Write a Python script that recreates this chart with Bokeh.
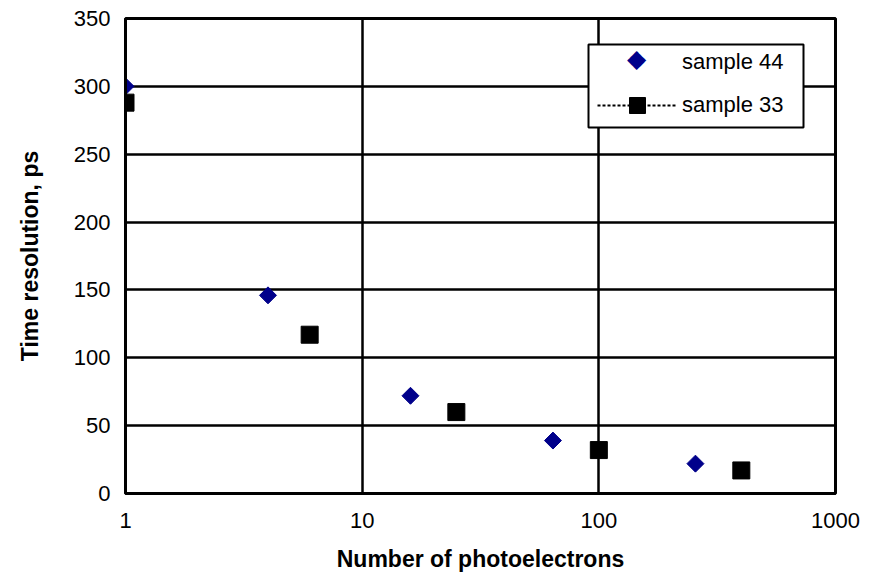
import math
from bokeh.plotting import figure
from bokeh.models import (Legend, LegendItem, FixedTicker, CustomJSTickFormatter, Label,
                          BoxAnnotation)
from bokeh.embed import file_html
from bokeh.resources import INLINE

# data
s44_x = [1, 4, 16, 64, 256]
s44_y = [300, 146, 72, 39, 22]
s33_x = [1, 6, 25, 100, 400]
s33_y = [288, 117, 60, 32, 17]
x_ticks = [1, 10, 100, 1000]
y_ticks = [0, 50, 100, 150, 200, 250, 300, 350]

FONT = "Liberation Sans"
NAVY = "#00008B"

p = figure(width=880, height=576, x_axis_type="log", x_range=(1, 1000), y_range=(0, 350),
           output_backend="svg", toolbar_location=None,
           min_border_left=125, min_border_right=45, min_border_top=18, min_border_bottom=83)
p.background_fill_color = "white"
p.border_fill_color = "white"
p.outline_line_color = "black"
p.outline_line_width = 3

for ax in (p.xaxis[0], p.yaxis[0]):
    ax.axis_line_color = "black"
    ax.axis_line_width = 3
    ax.major_tick_out = 0
    ax.major_tick_in = 0
    ax.minor_tick_out = 0
    ax.minor_tick_in = 0
    ax.major_label_text_font = FONT
    ax.major_label_text_font_size = "22px"
    ax.major_label_text_color = "black"
    ax.axis_label_text_font = FONT
    ax.axis_label_text_font_size = "23px"
    ax.axis_label_text_font_style = "bold"
    ax.axis_label_text_color = "black"

p.xaxis.ticker = FixedTicker(ticks=x_ticks)
p.yaxis.ticker = FixedTicker(ticks=y_ticks)
p.xaxis.formatter = CustomJSTickFormatter(code="return tick.toString();")
p.xaxis.major_label_standoff = 19
p.yaxis.major_label_standoff = 15
p.xaxis.axis_label = "Number of photoelectrons"
p.yaxis.axis_label = "Time resolution, ps"
p.xaxis.axis_label_standoff = 15
p.yaxis.axis_label_standoff = 28

p.xgrid.ticker = FixedTicker(ticks=x_ticks)
p.ygrid.ticker = FixedTicker(ticks=y_ticks)
for g in (p.xgrid[0], p.ygrid[0]):
    g.grid_line_color = "black"
    g.grid_line_width = 2.5

r44 = p.scatter(s44_x, s44_y, marker="square", angle=math.pi / 4, size=12, color=NAVY)
dummy44 = p.scatter(x=[float("nan")], y=[float("nan")], marker="square", size=12, alpha=0)
ln = p.line(x=[float("nan")], y=[float("nan")], line_color="black", line_width=2, line_dash="3 2")
r33 = p.scatter(s33_x, s33_y, marker="square", size=17, color="black")

# legend box (white background + black border)
box = BoxAnnotation(left=463, right=678, bottom=366, top=449,
                    left_units="screen", right_units="screen",
                    bottom_units="screen", top_units="screen",
                    fill_color="white", fill_alpha=1,
                    line_color="black", line_width=2, line_alpha=1)
p.add_layout(box)

legend = Legend(items=[LegendItem(label="sample 44", renderers=[dummy44]),
                       LegendItem(label="sample 33", renderers=[ln, r33])],
                location=(472, 368))
legend.label_text_font = FONT
legend.label_text_font_size = "22px"
legend.label_text_color = "black"
legend.label_width = 110
legend.glyph_width = 80
legend.glyph_height = 40
legend.label_standoff = 5
legend.padding = 0
legend.spacing = 3
legend.margin = 0
legend.border_line_alpha = 0
legend.background_fill_alpha = 0
p.add_layout(legend, "center")

# diamond symbol for the legend (legend glyphs ignore marker angle)
diamond = Label(x=511, y=421, x_units="screen", y_units="screen", text="\u25C6",
                text_font="DejaVu Sans", text_font_size="25px", text_color=NAVY,
                text_align="center", level="overlay")
p.add_layout(diamond, "center")

open("out.html", "w").write(file_html(p, INLINE))
